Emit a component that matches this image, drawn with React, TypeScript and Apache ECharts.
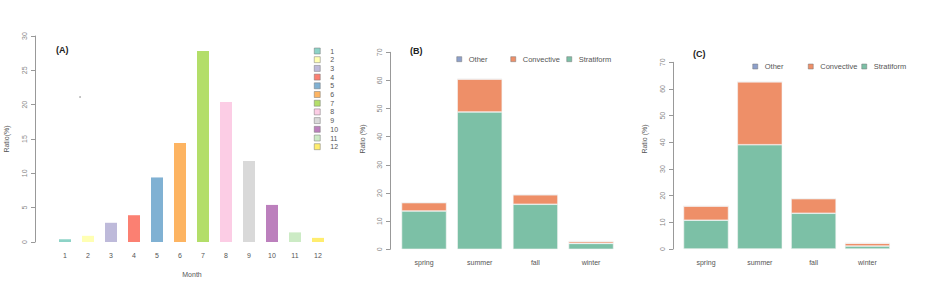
import React, { useEffect, useRef } from "react";
import * as echarts from "echarts";

const months = ["1", "2", "3", "4", "5", "6", "7", "8", "9", "10", "11", "12"];
const monthRatio = [0.4, 0.9, 2.8, 3.9, 9.4, 14.4, 27.8, 20.4, 11.8, 5.4, 1.4, 0.6];
const monthColors = ["#8DD3C7", "#FFFFB3", "#BEBADA", "#FB8072", "#80B1D3", "#FDB462", "#B3DE69", "#FCCDE5", "#D9D9D9", "#BC80BD", "#CCEBC5", "#FFED6F"];
const yTicksA = [0, 30, 5];

const seasons = ["spring", "summer", "fall", "winter"];
const stratB = [13.6, 48.8, 16.0, 2.1];
const convB = [3.0, 11.7, 3.4, 0.7];
const otherB = [0, 0, 0, 0];
const stratC = [10.8, 39.1, 13.4, 1.1];
const convC = [5.3, 23.6, 5.5, 1.1];
const otherC = [0, 0, 0, 0];
const yTicksBC = [0, 70, 10];

const typeNames = ["Stratiform", "Convective", "Other"];
const typeColors = ["#7CC0A6", "#EE8F68", "#8DA0CB"];

const FONT = "Liberation Sans";
const TXT = "#555";

export default function App() {
  const ref = useRef<HTMLDivElement>(null);
  useEffect(() => {
    const chart = echarts.init(ref.current!, undefined, { renderer: "svg" });

    const yAxisCommon = (min: number, max: number, interval: number, offset: number, gridIndex: number) => ({
      type: "value",
      gridIndex,
      min,
      max,
      interval,
      offset,
      splitLine: { show: false },
      axisLine: { show: true, lineStyle: { color: "#999", width: 1 } },
      axisTick: { show: true, length: 4, lineStyle: { color: "#999" } },
      axisLabel: { rotate: 90, fontSize: 7, color: "#888", fontFamily: FONT, margin: 7 },
    });
    const xAxisCommon = (data: string[], gridIndex: number, margin: number) => ({
      type: "category",
      gridIndex,
      data,
      axisLine: { show: false },
      axisTick: { show: false },
      axisLabel: { fontSize: 7, color: TXT, fontFamily: FONT, margin },
    });

    const seriesA = months.map((m, i) => ({
      type: "bar",
      name: m,
      xAxisIndex: 0,
      yAxisIndex: 0,
      stack: "A",
      barWidth: 12,
      data: months.map((_, j) => (j === i ? monthRatio[i] : "-")),
      itemStyle: { color: monthColors[i] },
    }));

    const stackSeries = (vals: number[][], axis: number, stack: string) =>
      vals.map((d, k) => ({
        type: "bar",
        name: typeNames[k],
        xAxisIndex: axis,
        yAxisIndex: axis,
        stack,
        barWidth: 45,
        data: d,
        itemStyle: { color: typeColors[k], borderColor: "#f4f4f4", borderWidth: 0.6 },
      }));

    const smallLegend = (name: string, left: number, top: number) => ({
      data: [name],
      left,
      top,
      orient: "horizontal",
      icon: "rect",
      itemWidth: 5,
      itemHeight: 5,
      padding: 0,
      selectedMode: false,
      itemStyle: { borderColor: "#777", borderWidth: 0.5 },
      textStyle: { fontSize: 7.5, color: TXT, fontFamily: FONT, padding: [0, 0, 0, 2] },
    });

    const option: any = {
      animation: false,
      backgroundColor: "#fff",
      grid: [
        { left: 53.5, top: 36, width: 276, height: 206 },
        { left: 396.2, top: 52.3, width: 222.7, height: 197 },
        { left: 679.1, top: 62.3, width: 215.2, height: 186.7 },
      ],
      xAxis: [
        xAxisCommon(months, 0, 10),
        xAxisCommon(seasons, 1, 10),
        xAxisCommon(seasons, 2, 10),
      ],
      yAxis: [
        yAxisCommon(yTicksA[0], yTicksA[1], yTicksA[2], 18.5, 0),
        yAxisCommon(yTicksBC[0], yTicksBC[1], yTicksBC[2], 6.2, 1),
        yAxisCommon(yTicksBC[0], yTicksBC[1], yTicksBC[2], 6.1, 2),
      ],
      legend: [
        {
          data: months,
          left: 314,
          top: 47.5,
          orient: "vertical",
          icon: "rect",
          itemWidth: 6,
          itemHeight: 6,
          itemGap: 1.7,
          padding: 0,
          selectedMode: false,
          itemStyle: { borderColor: "#777", borderWidth: 0.5 },
          textStyle: { fontSize: 7, lineHeight: 7, color: TXT, fontFamily: FONT, padding: [0, 0, 0, 5] },
        },
        smallLegend("Other", 456.5, 55.2),
        smallLegend("Convective", 510.5, 55.2),
        smallLegend("Stratiform", 566.5, 55.2),
        smallLegend("Other", 752.5, 62.5),
        smallLegend("Convective", 808, 62.5),
        smallLegend("Stratiform", 861.5, 62.5),
      ],
      series: [
        ...seriesA,
        ...stackSeries([stratB, convB, otherB], 1, "B"),
        ...stackSeries([stratC, convC, otherC], 2, "C"),
      ],
      graphic: [
        { type: "text", left: 56, top: 45, style: { text: "(A)", font: `bold 9px ${FONT}`, fill: "#222" } },
        { type: "text", left: 410, top: 46, style: { text: "(B)", font: `bold 9px ${FONT}`, fill: "#222" } },
        { type: "text", left: 693, top: 49, style: { text: "(C)", font: `bold 9px ${FONT}`, fill: "#222" } },
        { type: "text", x: 192, y: 274, style: { text: "Month", font: `7px ${FONT}`, fill: TXT, align: "center", verticalAlign: "middle" } },
        { type: "text", x: 6, y: 139, rotation: Math.PI / 2, style: { text: "Ratio(%)", font: `7px ${FONT}`, fill: TXT, align: "center", verticalAlign: "middle" } },
        { type: "text", x: 362, y: 139, rotation: Math.PI / 2, style: { text: "Ratio (%)", font: `7px ${FONT}`, fill: TXT, align: "center", verticalAlign: "middle" } },
        { type: "text", x: 644, y: 139, rotation: Math.PI / 2, style: { text: "Ratio (%)", font: `7px ${FONT}`, fill: TXT, align: "center", verticalAlign: "middle" } },
        { type: "circle", shape: { cx: 80, cy: 97, r: 0.6 }, style: { fill: "#555" } },
      ],
    };
    chart.setOption(option);
    return () => chart.dispose();
  }, []);
  return <div ref={ref} style={{ position: "fixed", left: 0, top: 0, width: 937, height: 295 }} />;
}
